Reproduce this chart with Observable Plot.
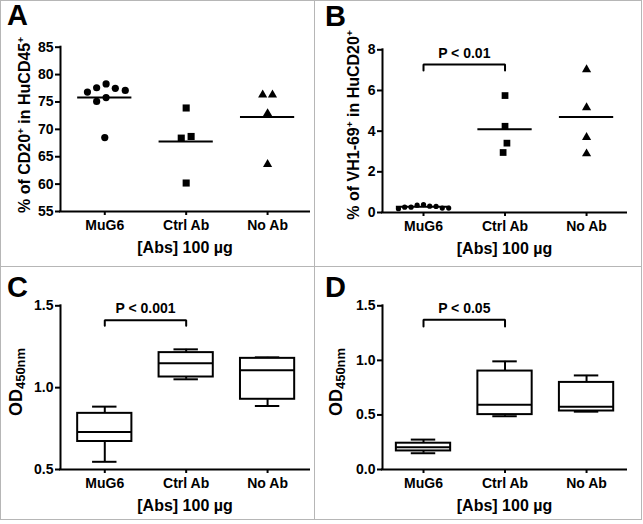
<!DOCTYPE html>
<html><head><meta charset="utf-8">
<script src="https://cdn.jsdelivr.net/npm/d3@7"></script>
<script src="https://cdn.jsdelivr.net/npm/@observablehq/plot@0.6"></script>
<style>
html,body{margin:0;padding:0;background:#fff;}
#fig{position:relative;width:643px;height:524px;font-family:"Liberation Sans",Arial,sans-serif;font-weight:bold;color:#000;overflow:hidden;}
.panel{position:absolute;}
.panel svg{overflow:visible;}
.letter{position:absolute;font-size:29px;font-weight:bold;line-height:29px;}
.ylab{position:absolute;white-space:nowrap;line-height:1;transform:translate(-50%,-50%) rotate(-90deg);}
.ylab sup{font-size:0.62em;line-height:0;vertical-align:0.6em;}
.ylab sub{font-size:0.72em;line-height:0;vertical-align:-0.22em;}
.rule{position:absolute;background:#b6b6b6;}
</style></head><body><div id="fig"></div>
<script>
// ---------- data ----------
const groups = ["MuG6", "Ctrl Ab", "No Ab"];
const xLabel = "[Abs] 100 µg";

// Panel A: % of CD20+ in HuCD45+
const aTicks = [55, 60, 65, 70, 75, 80, 85];
const aMuG6 = [77.6, 77.1, 77.5, 78.3, 75.8, 75.1, 76.8, 68.5];
const aCtrl = [73.9, 68.7, 68.4, 60.2];
const aNoAb = [76.3, 76.3, 72.9, 63.6];

// Panel B: % of VH1-69+ in HuCD20+
const bTicks = [0, 2, 4, 6, 8];
const bMuG6 = [0.36, 0.31, 0.26, 0.22, 0.19, 0.22, 0.26, 0.30, 0.39];
const bCtrl = [5.75, 4.24, 3.41, 2.95];
const bNoAb = [7.03, 5.16, 3.70, 2.89];
const bPval = {from: 0, to: 1, top: 7.28, foot: 6.98, labelAt: 7.8, label: "P < 0.01"};

// Panel C: OD450nm box plots
const cTicks = [0.5, 1.0, 1.5];
const cMin = [0.547, 1.051, 0.888];
const cQ1 = [0.671, 1.065, 0.929];
const cMedian = [0.729, 1.149, 1.106];
const cQ3 = [0.843, 1.214, 1.179];
const cMax = [0.884, 1.234, 1.185];
const cPval = {from: 0, to: 1, top: 1.412, foot: 1.378, labelAt: 1.482, label: "P < 0.001"};

// Panel D: OD450nm box plots
const dTicks = [0.0, 0.5, 1.0, 1.5];
const dMin = [0.149, 0.488, 0.530];
const dQ1 = [0.170, 0.503, 0.536];
const dMedian = [0.204, 0.594, 0.576];
const dQ3 = [0.241, 0.902, 0.798];
const dMax = [0.274, 0.991, 0.862];
const dPval = {from: 0, to: 1, top: 1.372, foot: 1.311, labelAt: 1.473, label: "P < 0.05"};

// ---------- layout ----------
const FONT = "'Liberation Sans', Arial, sans-serif";
const layout = {
  A: {left: 0, top: 0, width: 314, height: 266, ml: 60, mr: 5, mt: 46.7, mb: 55, xDomain: [-0.544, 2.515], yDomain: [55, 85]},
  B: {left: 314, top: 0, width: 328, height: 266, ml: 68, mr: 16, mt: 49.3, mb: 54, xDomain: [-0.503, 2.49], yDomain: [0, 8]},
  C: {left: 0, top: 266, width: 314, height: 254, ml: 60, mr: 5, mt: 39.3, mb: 51, xDomain: [-0.544, 2.515], yDomain: [0.5, 1.5]},
  D: {left: 314, top: 266, width: 328, height: 254, ml: 68, mr: 16, mt: 39.3, mb: 51, xDomain: [-0.503, 2.49], yDomain: [0, 1.5]}
};
const HALF = 0.333;   // half width of mean line / box, in category units
const CAP = 0.15;     // half width of whisker caps
const symbols = ["circle", "square", "triangle"];

// beeswarm-like horizontal spreading of points that would overlap
function swarm(values, pxPerUnit, diam) {
  const n = values.length;
  const ys = values.map(v => v * pxPerUnit);
  const order = d3.range(n).sort((a, b) => ys[b] - ys[a] || a - b);
  const xs = new Array(n).fill(0);
  const placed = [];
  for (const i of order) {
    const iv = [];
    for (const j of placed) {
      const dy = Math.abs(ys[i] - ys[j]);
      if (dy < diam) { const w = Math.sqrt(diam * diam - dy * dy); iv.push([xs[j] - w, xs[j] + w]); }
    }
    const cands = [0];
    iv.forEach(([a, b]) => cands.push(a, b));
    cands.sort((p, q) => Math.abs(p) - Math.abs(q) || p - q);
    xs[i] = cands.find(c => iv.every(([a, b]) => c <= a + 1e-6 || c >= b - 1e-6));
    placed.push(i);
  }
  const parent = d3.range(n);
  const find = k => parent[k] === k ? k : (parent[k] = find(parent[k]));
  for (let a = 0; a < n; a++) for (let b = a + 1; b < n; b++) if (Math.abs(ys[a] - ys[b]) < diam) parent[find(a)] = find(b);
  const clusters = d3.group(d3.range(n), k => find(k));
  for (const members of clusters.values()) {
    const m = d3.mean(members, k => xs[k]);
    members.forEach(k => xs[k] -= m);
  }
  return xs;
}

function bracketMarks(p) {
  return [
    Plot.line([[p.from, p.foot], [p.from, p.top], [p.to, p.top], [p.to, p.foot]], {strokeWidth: 2, strokeLinejoin: "miter"}),
    Plot.text([p], {x: d => (d.from + d.to) / 2, y: "labelAt", text: "label", fontSize: 14, fontWeight: "bold", lineAnchor: "middle"})
  ];
}

function makePlot(cfg, yTicks, yFmt, marks) {
  const [x0, x1] = cfg.xDomain;
  const [y0, y1] = cfg.yDomain;
  return Plot.plot({
    width: cfg.width, height: cfg.height,
    marginLeft: cfg.ml, marginRight: cfg.mr, marginTop: cfg.mt, marginBottom: cfg.mb,
    x: {type: "linear", domain: cfg.xDomain},
    y: {type: "linear", domain: cfg.yDomain},
    style: {fontFamily: FONT, fontWeight: "bold", color: "black", background: "transparent"},
    marks: [
      ...marks,
      Plot.ruleX([x0], {y1: y0, y2: y1, strokeWidth: 2, strokeLinecap: "square"}),
      Plot.ruleY([y0], {x1: x0, x2: x1, strokeWidth: 2, strokeLinecap: "square"}),
      Plot.axisY({ticks: yTicks, tickFormat: yFmt, tickSize: 5, tickPadding: 2, fontSize: 14, fontWeight: "bold", strokeWidth: 2, label: null}),
      Plot.axisX({ticks: [0, 1, 2], tickFormat: i => groups[i], tickSize: 4, tickPadding: 5, fontSize: 14, fontWeight: "bold", strokeWidth: 2, label: null}),
      Plot.text([xLabel], {text: d => d, frameAnchor: "bottom", dy: 30.5, lineAnchor: "top", fontSize: 16, fontWeight: "bold"})
    ]
  });
}

function scatterMarks(cfg, series, radii, gaps) {
  const pxY = (cfg.height - cfg.mt - cfg.mb) / (cfg.yDomain[1] - cfg.yDomain[0]);
  const pxX = (cfg.width - cfg.ml - cfg.mr) / (cfg.xDomain[1] - cfg.xDomain[0]);
  const marks = [];
  series.forEach((vals, gi) => {
    const offs = swarm(vals, pxY, 2 * radii[gi] + gaps[gi]);
    const pts = vals.map((v, k) => ({x: gi + offs[k] / pxX, y: v}));
    marks.push(Plot.dot(pts, {x: "x", y: "y", r: radii[gi], symbol: symbols[gi], fill: "black", stroke: "none"}));
  });
  const means = series.map((vals, gi) => ({g: gi, m: d3.mean(vals)}));
  marks.push(Plot.ruleY(means, {y: "m", x1: d => d.g - HALF, x2: d => d.g + HALF, strokeWidth: 2}));
  return marks;
}

function boxMarks(mins, q1s, meds, q3s, maxs) {
  const rows = groups.map((g, i) => ({i, min: mins[i], q1: q1s[i], med: meds[i], q3: q3s[i], max: maxs[i]}));
  return [
    Plot.ruleX(rows, {x: "i", y1: "q3", y2: "max", strokeWidth: 2}),
    Plot.ruleX(rows, {x: "i", y1: "min", y2: "q1", strokeWidth: 2}),
    Plot.ruleY(rows, {y: "max", x1: d => d.i - CAP, x2: d => d.i + CAP, strokeWidth: 2}),
    Plot.ruleY(rows, {y: "min", x1: d => d.i - CAP, x2: d => d.i + CAP, strokeWidth: 2}),
    Plot.rect(rows, {x1: d => d.i - HALF, x2: d => d.i + HALF, y1: "q1", y2: "q3", fill: "white", stroke: "black", strokeWidth: 2}),
    Plot.ruleY(rows, {y: "med", x1: d => d.i - HALF, x2: d => d.i + HALF, strokeWidth: 2})
  ];
}

const fig = document.getElementById("fig");
function place(cfg, node) {
  const div = document.createElement("div");
  div.className = "panel";
  div.style.left = cfg.left + "px";
  div.style.top = cfg.top + "px";
  div.appendChild(node);
  fig.appendChild(div);
}
function html(cls, style, content) {
  const d = document.createElement("div");
  d.className = cls;
  Object.assign(d.style, style);
  d.innerHTML = content;
  fig.appendChild(d);
}

const f1 = d3.format(".1f");
place(layout.A, makePlot(layout.A, aTicks, d3.format("d"), scatterMarks(layout.A, [aMuG6, aCtrl, aNoAb], [3.6, 4.0, 3.4], [3, 2, 3])));
place(layout.B, makePlot(layout.B, bTicks, d3.format("d"), [...scatterMarks(layout.B, [bMuG6, bCtrl, bNoAb], [2.6, 3.8, 3.4], [1.2, 2.5, 2.5]), ...bracketMarks(bPval)]));
place(layout.C, makePlot(layout.C, cTicks, f1, [...boxMarks(cMin, cQ1, cMedian, cQ3, cMax), ...bracketMarks(cPval)]));
place(layout.D, makePlot(layout.D, dTicks, f1, [...boxMarks(dMin, dQ1, dMedian, dQ3, dMax), ...bracketMarks(dPval)]));

// y-axis titles (with super/subscripts)
html("ylab", {left: "25px", top: "125px", fontSize: "16px"}, "% of CD20<sup>+</sup> in HuCD45<sup>+</sup>");
html("ylab", {left: "354px", top: "125px", fontSize: "16px"}, "% of VH1-69<sup>+</sup> in HuCD20<sup>+</sup>");
html("ylab", {left: "16px", top: "382px", fontSize: "18px"}, "OD<sub>450nm</sub>");
html("ylab", {left: "336px", top: "382px", fontSize: "18px"}, "OD<sub>450nm</sub>");

// panel letters
html("letter", {left: "7px", top: "0.5px"}, "A");
html("letter", {left: "325px", top: "2px"}, "B");
html("letter", {left: "7px", top: "272.5px"}, "C");
html("letter", {left: "325px", top: "272.5px"}, "D");

// panel frame lines
html("rule", {left: "0px", top: "0px", width: "642px", height: "1px"}, "");
html("rule", {left: "0px", top: "519px", width: "642px", height: "1px"}, "");
html("rule", {left: "0px", top: "0px", width: "1px", height: "520px"}, "");
html("rule", {left: "641px", top: "0px", width: "1px", height: "520px"}, "");
html("rule", {left: "314px", top: "0px", width: "1px", height: "520px"}, "");
html("rule", {left: "0px", top: "266px", width: "642px", height: "1px"}, "");
</script></body></html>
